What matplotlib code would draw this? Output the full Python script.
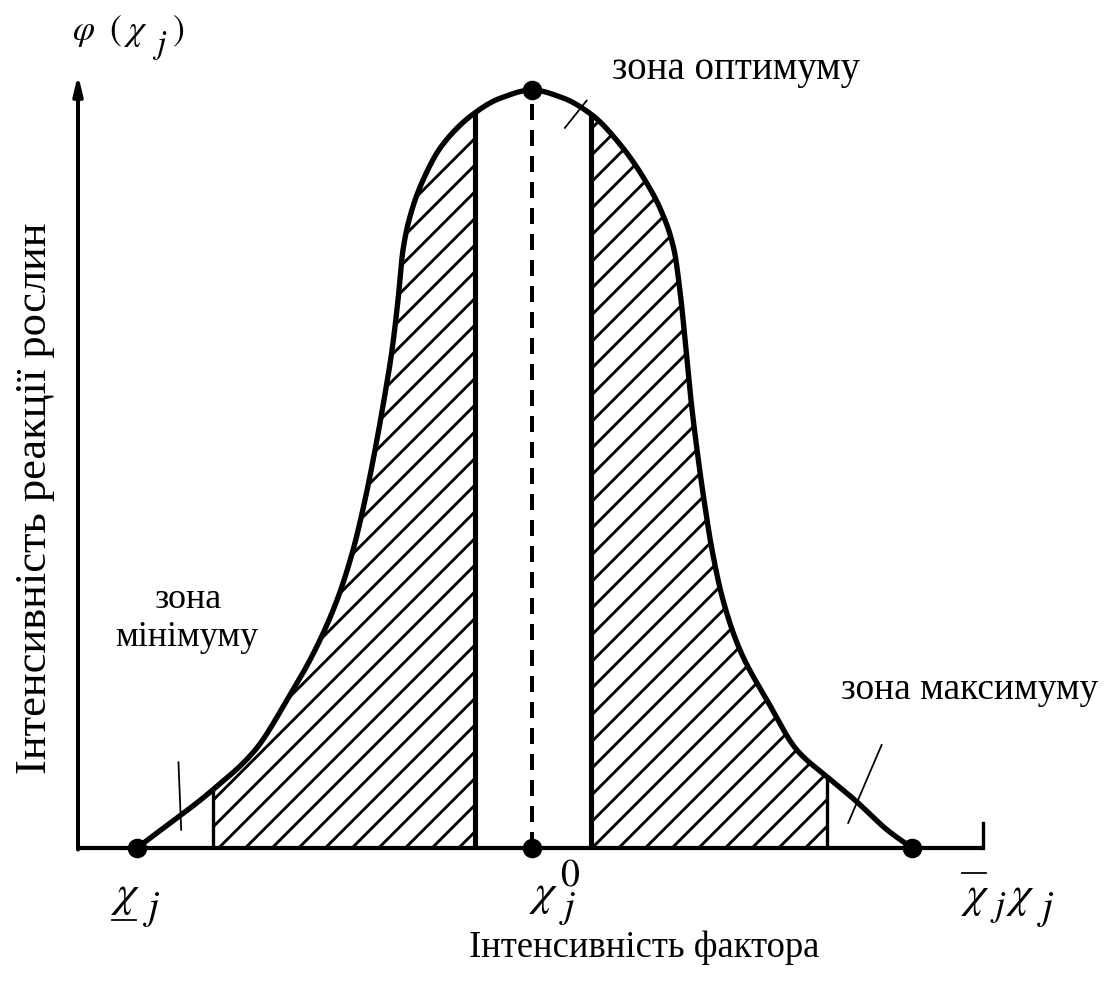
import numpy as np
import matplotlib
matplotlib.use("Agg")
import matplotlib.pyplot as plt
from matplotlib.lines import Line2D

# ---- data (x: factor intensity, y: plant reaction intensity, peak = 1) ----
curve_x = [0.652, 1.492, 1.956, 2.309, 2.619, 2.862, 3.039, 3.171, 3.282, 3.381,
           3.470, 3.536, 3.591, 3.680, 3.812, 4.011, 4.354, 4.663, 5.017,
           5.348, 5.680, 6.011, 6.265, 6.453, 6.586, 6.663, 6.718, 6.773, 6.840,
           6.917, 7.006, 7.127, 7.315, 7.613, 7.945, 8.276, 8.586, 8.939, 9.215]
curve_y = [0.000, 0.077, 0.129, 0.195, 0.261, 0.327, 0.393, 0.459, 0.525, 0.591,
           0.657, 0.723, 0.789, 0.838, 0.881, 0.925, 0.967, 0.989, 1.000,
           0.990, 0.967, 0.925, 0.881, 0.838, 0.789, 0.723, 0.657, 0.591, 0.525,
           0.459, 0.393, 0.327, 0.261, 0.195, 0.129, 0.094, 0.063, 0.024, 0.000]
x_min, x_opt, x_max = 0.652, 5.017, 9.215
zone_left = [1.492, 4.39]     # hatched band, left side
zone_right = [5.67, 8.276]    # hatched band, right side
axis_end_x = 10.0
axis_top_y = 1.02

ylabel = "Інтенсивність реакції рослин"
xlabel = "Інтенсивність фактора"
zone_labels = ["зона", "мінімуму", "зона оптимуму", "зона максимуму"]

# ---- figure ----
W, H, DPI = 1108, 981, 160
plt.rcParams["font.family"] = ["Liberation Serif", "DejaVu Serif"]
plt.rcParams["mathtext.fontset"] = "stix"
plt.rcParams["hatch.linewidth"] = 1.3
fig = plt.figure(figsize=(W / DPI, H / DPI), dpi=DPI)
ax = fig.add_axes([0, 0, 1, 1])
ax.set_xlim(-0.862, 11.381)
ax.set_ylim(-0.1755, 1.1187)
ax.axis("off")


def fx(px):
    return px / W


def fy(py):
    return 1 - py / H


def pchip(x, y, xn):
    """Monotone cubic (Fritsch-Carlson) rendering of the read points."""
    x = np.asarray(x, float)
    y = np.asarray(y, float)
    h = np.diff(x)
    d = np.diff(y) / h
    n = len(x)
    m = np.zeros(n)
    for k in range(1, n - 1):
        if d[k - 1] * d[k] > 0:
            w1 = 2 * h[k] + h[k - 1]
            w2 = h[k] + 2 * h[k - 1]
            m[k] = (w1 + w2) / (w1 / d[k - 1] + w2 / d[k])
    m[0] = d[0]
    m[-1] = d[-1]
    idx = np.clip(np.searchsorted(x, xn) - 1, 0, n - 2)
    t = (xn - x[idx]) / h[idx]
    h00 = 2 * t ** 3 - 3 * t ** 2 + 1
    h10 = t ** 3 - 2 * t ** 2 + t
    h01 = -2 * t ** 3 + 3 * t ** 2
    h11 = t ** 3 - t ** 2
    return (h00 * y[idx] + h10 * h[idx] * m[idx]
            + h01 * y[idx + 1] + h11 * h[idx] * m[idx + 1])


sx = np.linspace(curve_x[0], curve_x[-1], 3000)
sy = pchip(curve_x, curve_y, sx)

# hatched zones
for a, b in (zone_left, zone_right):
    xs = np.linspace(a, b, 600)
    ys = pchip(curve_x, curve_y, xs)
    ax.fill_between(xs, 0, ys, facecolor="none", edgecolor="black",
                    hatch="//", linewidth=0)

# vertical boundaries
inner = np.array([zone_left[1], zone_right[0]])
outer = np.array([zone_left[0], zone_right[1]])
ax.vlines(inner, 0, pchip(curve_x, curve_y, inner), color="black", lw=2.3)
ax.vlines(outer, 0, pchip(curve_x, curve_y, outer), color="black", lw=1.5)

# curve
ax.plot(sx, sy, color="black", lw=2.4, solid_capstyle="round", solid_joinstyle="round")

# dashed optimum line
ax.plot([x_opt, x_opt], [0, 1.0], color="black", lw=1.8, ls=(0, (4, 2.5)))

# axes
ax.plot([0, axis_end_x], [0, 0], color="black", lw=1.9, solid_capstyle="butt")
ax.plot([axis_end_x, axis_end_x], [0, 0.033], color="black", lw=1.5)
ax.annotate("", xy=(0, axis_top_y), xytext=(0, -0.002),
            arrowprops=dict(arrowstyle="-|>,head_length=0.7,head_width=0.17",
                            color="black", lw=1.8, shrinkA=0, shrinkB=0))

# key points
ax.plot([x_min, x_opt, x_max, x_opt], [0, 0, 0, 1.0], "o", color="black", ms=7.8)

# pointer strokes for zone labels
ax.plot([1.11, 1.14], [0.113, 0.024], color="black", lw=0.8)
ax.plot([8.88, 8.51], [0.136, 0.033], color="black", lw=0.8)
ax.plot([5.62, 5.38], [0.986, 0.950], color="black", lw=0.8)


def piece(px, py, s, size):
    fig.text(fx(px), fy(py), s, fontsize=size, ha="left", va="baseline")


# y axis title  phi (chi j)
piece(72, 40, r"$\varphi$", 16)
piece(109, 40, r"$($", 16)
piece(124, 40, r"$\chi$", 16.5)
piece(152, 53, r"$j$", 15)
piece(172, 40, r"$)$", 16)

fig.text(fx(35), fy(498), ylabel, rotation=90, fontsize=20, ha="center", va="center")
fig.text(fx(644), fy(948), xlabel, fontsize=16.5, ha="center", va="center")

fig.text(fx(189), fy(599), zone_labels[0], fontsize=16.2, ha="center", va="center")
fig.text(fx(187), fy(638), zone_labels[1], fontsize=16.2, ha="center", va="center")
fig.text(fx(736), fy(70), zone_labels[2], fontsize=17.5, ha="center", va="center")
fig.text(fx(970), fy(690), zone_labels[3], fontsize=16.8, ha="center", va="center")

# x tick labels
piece(111, 906, r"$\chi$", 20.5)
piece(143, 919, r"$j$", 18)
fig.add_artist(Line2D([fx(112), fx(136)], [fy(920), fy(920)], color="black", lw=0.8))

piece(529, 905, r"$\chi$", 20.5)
piece(560, 885, r"$\mathrm{0}$", 17)
piece(559, 917, r"$j$", 17.5)

fig.add_artist(Line2D([fx(962), fx(986)], [fy(873), fy(873)], color="black", lw=0.8))
piece(961, 907, r"$\chi$", 20)
piece(990, 916, r"$j$", 16.5)
piece(1006, 907, r"$\chi$", 20)
piece(1037, 919, r"$j$", 18)

fig.savefig("out.png", dpi=DPI, facecolor="white")
